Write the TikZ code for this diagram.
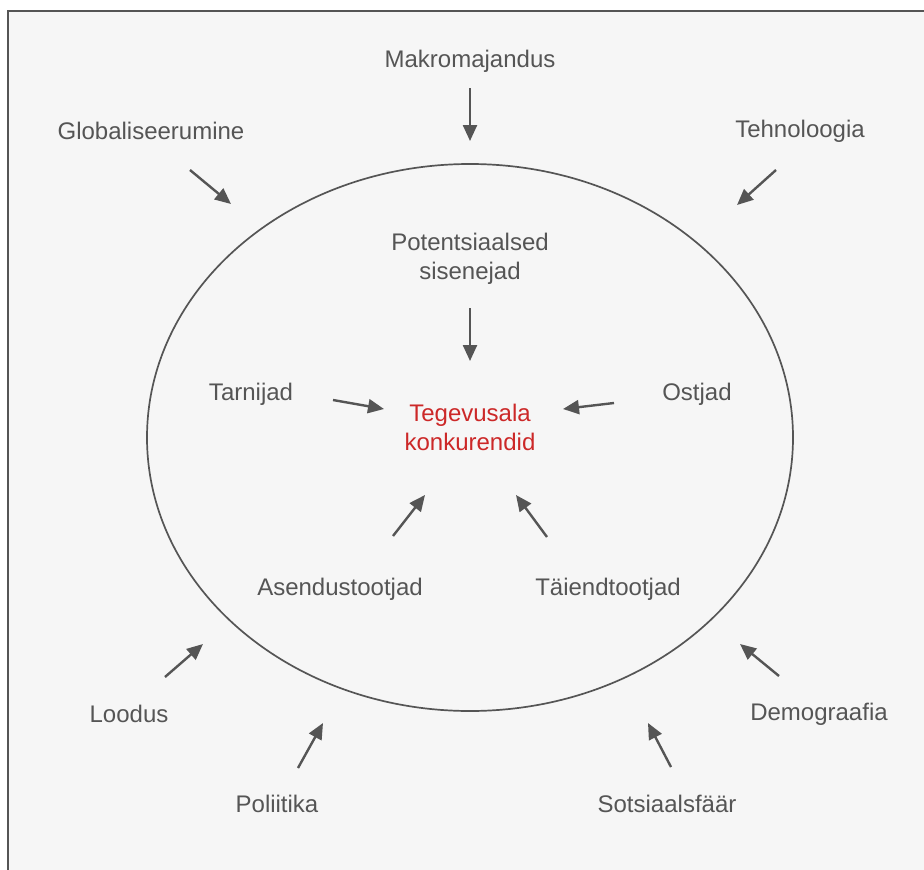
\documentclass[tikz,border=0pt]{standalone}
\usepackage{fontspec}
\setmainfont{Liberation Sans}
\usetikzlibrary{arrows.meta,shapes.geometric}
\definecolor{ink}{RGB}{85,85,85}
\definecolor{accent}{RGB}{204,40,40}
\definecolor{paper}{RGB}{246,246,246}
\begin{document}
\begin{tikzpicture}[x=1pt,y=-1pt,
  lbl/.style={text=ink,font=\fontsize{24}{29}\selectfont,align=center,inner sep=0pt},
  core/.style={lbl,text=accent},
  force/.style={draw=ink,line width=2.4pt,-{Triangle[length=16pt,width=14pt]}}]
\useasboundingbox (0,0) rectangle (924,870);
% framed panel
\begin{scope}
\clip (0,0) rectangle (924,870);
\fill[paper] (8,11) rectangle (940,890);
\draw[ink,line width=2.5pt] (8,890) -- (8,11) -- (940,11);
\end{scope}
% industry boundary
\node[draw=ink,line width=1.7pt,ellipse,minimum width=646pt,minimum height=547pt,inner sep=0pt] (ring) at (470,437.5) {};

% labels
\node[lbl] (makro) at (470,61) {Makromajandus};
\node[lbl] (glob) at (151,131) {Globaliseerumine};
\node[lbl] (tehno) at (800,131) {Tehnoloogia};
\node[lbl] (pot) at (470,259) {Potentsiaalsed\\sisenejad};
\node[lbl] (tarn) at (251,394) {Tarnijad};
\node[lbl] (ost) at (697,394) {Ostjad};
\node[core] (konk) at (470,427) {Tegevusala\\konkurendid};
\node[lbl] (asend) at (340,589) {Asendustootjad};
\node[lbl] (taiend) at (608,589) {Täiendtootjad};
\node[lbl] (lood) at (129,714) {Loodus};
\node[lbl] (demo) at (819,714) {Demograafia};
\node[lbl] (poli) at (277,804) {Poliitika};
\node[lbl] (sots) at (667,804) {Sotsiaalsfäär};

% arrow ends
\coordinate (a1) at (470,88);  \coordinate (b1) at (470,141);
\coordinate (a2) at (190,170); \coordinate (b2) at (231,204);
\coordinate (a3) at (776,170); \coordinate (b3) at (737,205);
\coordinate (a4) at (470,308); \coordinate (b4) at (470,361);
\coordinate (a5) at (333,400); \coordinate (b5) at (384,409);
\coordinate (a6) at (614,403); \coordinate (b6) at (563,409);
\coordinate (a7) at (393,536); \coordinate (b7) at (425,495);
\coordinate (a8) at (547,537); \coordinate (b8) at (516,495);
\coordinate (a9) at (165,677); \coordinate (b9) at (203,644);
\coordinate (a10) at (779,676); \coordinate (b10) at (740,644);
\coordinate (a11) at (298,768); \coordinate (b11) at (323,723);
\coordinate (a12) at (671,767); \coordinate (b12) at (648,723);

\foreach \i in {1,...,12} \draw[force] (a\i) -- (b\i);
\end{tikzpicture}
\end{document}
